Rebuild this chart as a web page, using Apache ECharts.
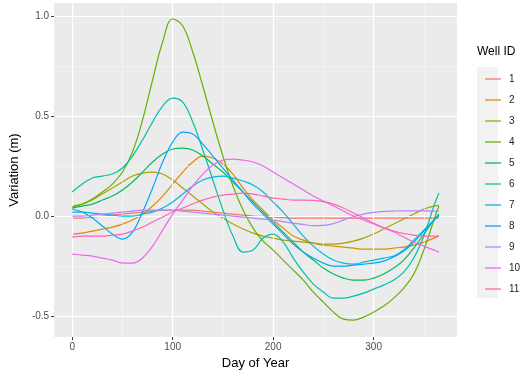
<!DOCTYPE html>
<html>
<head>
<meta charset="utf-8">
<script src="https://cdn.jsdelivr.net/npm/echarts@6/dist/echarts.min.js"></script>
<style>html,body{margin:0;padding:0;background:#fff}#c{width:522px;height:375px}</style>
</head>
<body>
<div id="c"></div>
<script>
const days = [0,10,20,30,40,50,60,70,80,90,100,110,120,130,140,150,160,170,180,190,200,210,220,230,240,250,260,270,280,290,300,310,320,330,340,350,360,365];
const wellIds = ['1','2','3','4','5','6','7','8','9','10','11'];
const colors = ['#F8766D','#DB8E00','#AEA200','#64B200','#00BD5C','#00C1A7','#00BADE','#00A6FF','#B385FF','#EF67EB','#FF63B6'];

const well1 = [-0.01,-0.01,-0.005,0,0.005,0.01,0.015,0.02,0.025,0.03,0.03,0.03,0.03,0.025,0.02,0.015,0.01,0.005,0,-0.002,-0.005,-0.008,-0.01,-0.01,-0.01,-0.01,-0.01,-0.01,-0.01,-0.01,-0.01,-0.01,-0.01,-0.01,-0.01,-0.01,-0.01,-0.01];
const well2 = [-0.09,-0.085,-0.075,-0.065,-0.055,-0.04,-0.02,0.01,0.05,0.10,0.16,0.22,0.27,0.30,0.29,0.26,0.21,0.14,0.08,0.03,-0.02,-0.06,-0.10,-0.12,-0.135,-0.145,-0.15,-0.155,-0.16,-0.165,-0.165,-0.165,-0.16,-0.155,-0.145,-0.13,-0.11,-0.10];
const well3 = [0.05,0.06,0.08,0.11,0.14,0.17,0.20,0.215,0.22,0.21,0.18,0.14,0.10,0.06,0.02,-0.01,-0.04,-0.065,-0.085,-0.10,-0.11,-0.12,-0.125,-0.13,-0.135,-0.14,-0.14,-0.135,-0.125,-0.11,-0.09,-0.065,-0.04,-0.015,0.01,0.035,0.05,0.053];
const well4 = [0.045,0.06,0.085,0.12,0.16,0.22,0.32,0.48,0.68,0.87,0.985,0.95,0.82,0.65,0.47,0.30,0.15,0.03,-0.06,-0.125,-0.17,-0.22,-0.27,-0.32,-0.38,-0.43,-0.48,-0.515,-0.52,-0.505,-0.48,-0.45,-0.41,-0.36,-0.29,-0.17,-0.02,0.05];
const well5 = [0.04,0.05,0.06,0.08,0.10,0.13,0.17,0.22,0.27,0.31,0.335,0.34,0.33,0.30,0.26,0.22,0.17,0.12,0.07,0.02,-0.03,-0.08,-0.13,-0.18,-0.22,-0.26,-0.29,-0.31,-0.32,-0.32,-0.31,-0.29,-0.26,-0.22,-0.16,-0.09,-0.02,0.01];
const well6 = [0.12,0.16,0.19,0.20,0.21,0.24,0.30,0.38,0.47,0.55,0.59,0.57,0.47,0.33,0.18,0.03,-0.10,-0.18,-0.17,-0.11,-0.09,-0.13,-0.21,-0.28,-0.34,-0.38,-0.41,-0.41,-0.40,-0.385,-0.365,-0.345,-0.32,-0.28,-0.21,-0.10,0.05,0.115];
const well7 = [0.02,0.02,0.015,0.01,0.005,0,0,0.01,0.02,0.04,0.07,0.11,0.15,0.18,0.195,0.20,0.19,0.175,0.155,0.12,0.07,0.02,-0.04,-0.10,-0.15,-0.19,-0.22,-0.235,-0.24,-0.23,-0.22,-0.21,-0.20,-0.17,-0.12,-0.07,-0.02,0];
const well8 = [0.034,0.02,-0.01,-0.05,-0.09,-0.115,-0.08,0.02,0.14,0.27,0.37,0.42,0.41,0.36,0.30,0.24,0.18,0.12,0.06,0.01,-0.04,-0.09,-0.14,-0.18,-0.21,-0.235,-0.25,-0.25,-0.245,-0.24,-0.235,-0.225,-0.205,-0.175,-0.13,-0.075,-0.02,0.005];
const well9 = [0,0,0.005,0.01,0.015,0.02,0.025,0.03,0.03,0.03,0.03,0.025,0.02,0.015,0.01,0.005,0,-0.005,-0.01,-0.015,-0.02,-0.028,-0.035,-0.042,-0.048,-0.047,-0.038,-0.02,-0.002,0.01,0.018,0.023,0.025,0.026,0.026,0.026,0.025,0.025];
const well10 = [-0.19,-0.195,-0.20,-0.21,-0.22,-0.235,-0.235,-0.21,-0.15,-0.07,0.01,0.08,0.15,0.21,0.255,0.28,0.285,0.28,0.27,0.25,0.22,0.19,0.16,0.13,0.10,0.075,0.05,0.025,0,-0.02,-0.04,-0.06,-0.08,-0.105,-0.13,-0.15,-0.17,-0.18];
const well11 = [-0.105,-0.10,-0.10,-0.10,-0.095,-0.09,-0.075,-0.055,-0.03,-0.005,0.02,0.04,0.06,0.08,0.095,0.105,0.11,0.115,0.11,0.10,0.09,0.085,0.08,0.08,0.078,0.072,0.06,0.04,0.015,-0.01,-0.035,-0.058,-0.075,-0.087,-0.095,-0.10,-0.10,-0.10];

const wells = [well1,well2,well3,well4,well5,well6,well7,well8,well9,well10,well11];

const xTicks = [0,100,200,300];
const xMinor = [50,150,250,350];
const yTicks = [-0.5,0,0.5,1.0];
const yMinor = [-0.25,0.25,0.75];

const chart = echarts.init(document.getElementById('c'), null, {renderer:'canvas'});

const gridLines = [];
xMinor.forEach(v => gridLines.push({xAxis: v, lineStyle:{color:'#F7F7F7', width:0.6, type:'solid'}}));
yMinor.forEach(v => gridLines.push({yAxis: v, lineStyle:{color:'#F7F7F7', width:0.6, type:'solid'}}));
xTicks.forEach(v => gridLines.push({xAxis: v, lineStyle:{color:'#FFFFFF', width:1.2, type:'solid'}}));
yTicks.forEach(v => gridLines.push({yAxis: v, lineStyle:{color:'#FFFFFF', width:1.2, type:'solid'}}));

const series = [{
  name: 'grid', type: 'line', data: [], z: 1, silent: true,
  markLine: { silent: true, symbol: ['none','none'], label: {show:false}, animation: false, data: gridLines }
}];
wells.forEach((vals, k) => {
  series.push({
    name: wellIds[k], type: 'line', z: 2 + k,
    data: days.map((d, i) => [d, vals[i]]),
    smooth: 0.4, showSymbol: false, symbol: 'none',
    lineStyle: {color: colors[k], width: 1.2},
    itemStyle: {color: colors[k]},
    animation: false
  });
});

chart.setOption({
  animation: false,
  grid: {left: 52, right: 65, top: 3, bottom: 33, show: true, backgroundColor: '#EBEBEB', borderWidth: 0},
  xAxis: {
    type: 'value', min: -18, max: 383,
    name: 'Day of Year', nameLocation: 'middle', nameGap: 18,
    nameTextStyle: {color: '#000', fontSize: 13, fontFamily: 'Liberation Sans, Arial, sans-serif'},
    axisLine: {show: false, onZero: false},
    axisTick: {show: true, customValues: xTicks, length: 3, lineStyle: {color: '#333'}},
    axisLabel: {customValues: xTicks, margin: 5, color: '#4D4D4D', fontSize: 10, fontFamily: 'Liberation Sans, Arial, sans-serif'},
    splitLine: {show: false}
  },
  yAxis: {
    type: 'value', min: -0.605, max: 1.065,
    name: 'Variation (m)', nameLocation: 'middle', nameGap: 30,
    nameTextStyle: {color: '#000', fontSize: 13, fontFamily: 'Liberation Sans, Arial, sans-serif'},
    axisLine: {show: false, onZero: false},
    axisTick: {show: true, customValues: yTicks, length: 3, lineStyle: {color: '#333'}},
    axisLabel: {customValues: yTicks, margin: 5, color: '#4D4D4D', fontSize: 10, fontFamily: 'Liberation Sans, Arial, sans-serif',
      formatter: v => v.toFixed(1)},
    splitLine: {show: false}
  },
  legend: {
    data: wellIds, orient: 'vertical', left: 480, top: 69,
    icon: 'rect', itemWidth: 16, itemHeight: 1.3, itemGap: 11,
    textStyle: {color: '#222', fontSize: 10, fontFamily: 'Liberation Sans, Arial, sans-serif', padding: [0,0,0,3]},
    selectedMode: false
  },
  graphic: [
    {type: 'rect', left: 477, top: 67, shape: {width: 21, height: 231}, style: {fill: '#F2F2F2'}, z: -1, silent: true},
    {type: 'text', left: 477, top: 46, style: {text: 'Well ID', fill: '#000', fontSize: 12, fontFamily: 'Liberation Sans, Arial, sans-serif'}}
  ],
  series: series
});
</script>
</body>
</html>
